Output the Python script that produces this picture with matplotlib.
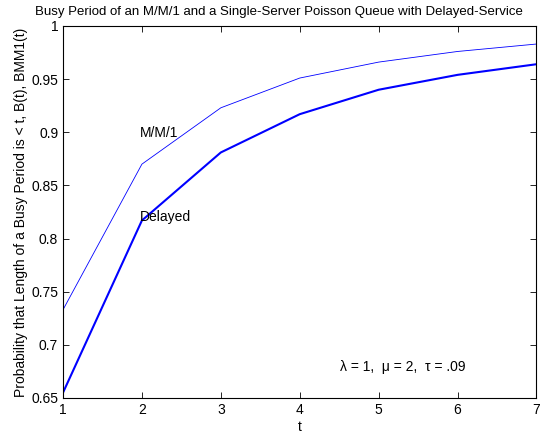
import matplotlib
matplotlib.use("Agg")
import matplotlib.pyplot as plt

t = [1, 2, 3, 4, 5, 6, 7]
mm1 = [0.733, 0.870, 0.923, 0.951, 0.966, 0.976, 0.983]
delayed = [0.655, 0.817, 0.881, 0.917, 0.940, 0.954, 0.964]

plt.rcParams['font.family'] = ['Liberation Sans', 'DejaVu Sans']

fig = plt.figure(figsize=(5.6, 4.4), dpi=100)
ax = fig.add_axes([0.1125, 0.0955, 0.8455, 0.8455])

ax.plot(t, mm1, color='#0000ff', lw=0.6)
ax.plot(t, delayed, color='#0000ff', lw=1.5)

ax.set_xlim(1, 7)
ax.set_ylim(0.65, 1)
ax.set_xticks(t)
ax.set_yticks([0.65, 0.7, 0.75, 0.8, 0.85, 0.9, 0.95, 1])
ax.set_yticklabels(['0.65', '0.7', '0.75', '0.8', '0.85', '0.9', '0.95', '1'])
ax.tick_params(direction='in', top=True, right=True, labelsize=10, length=4, width=0.6)
for s in ax.spines.values():
    s.set_linewidth(0.8)

ax.text(1.97, 0.899, 'M/M/1', fontsize=10, va='center')
ax.text(1.97, 0.82, 'Delayed', fontsize=10, va='center')
ax.text(4.51, 0.679, '\u03bb = 1,  \u03bc = 2,  \u03c4 = .09', fontsize=10, va='center')

ax.set_xlabel('t', fontsize=10, labelpad=2)
ax.set_ylabel('Probability that Length of a Busy Period is < t, B(t), BMM1(t)', fontsize=10, labelpad=2)
fig.text(279 / 560, 1 - 12 / 440, 'Busy Period of an M/M/1 and a Single-Server Poisson Queue with Delayed-Service',
         ha='center', va='center', fontsize=9.5)

fig.savefig('out.png', dpi=100)
